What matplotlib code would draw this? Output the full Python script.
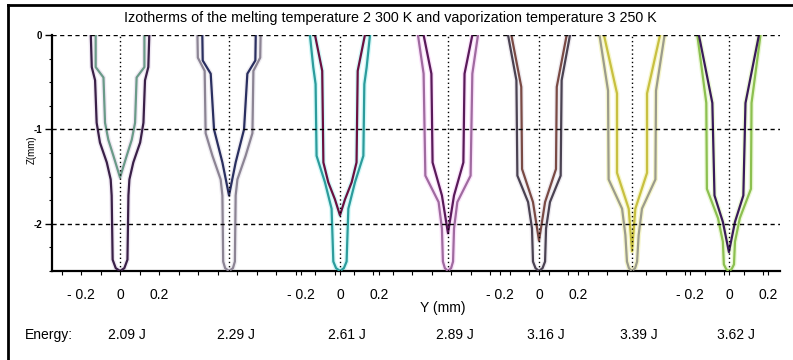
import numpy as np
import matplotlib
matplotlib.use('Agg')
import matplotlib.pyplot as plt
from matplotlib.ticker import MultipleLocator
import matplotlib.transforms as mtransforms

plt.rcParams['font.family'] = ['Liberation Sans', 'DejaVu Sans']

# energies of the seven shots
energies = ['2.09 J', '2.29 J', '2.61 J', '2.89 J', '3.16 J', '3.39 J', '3.62 J']
# position of each profile axis on the common Y axis (mm)
centers = [0.0, 0.559, 1.128, 1.682, 2.149, 2.626, 3.123]

# melting isotherm (2300 K): depth z (mm) and half width (mm)
melt_z = [
    [0, -0.34, -0.48, -0.93, -1.14, -1.35, -1.53, -1.70, -2.38, -2.47, -2.5],
    [0, -0.24, -0.38, -1.04, -1.28, -1.53, -1.70, -2.40, -2.47, -2.5],
    [0, -0.34, -0.52, -1.28, -1.56, -1.84, -2.40, -2.47, -2.5],
    [0, -0.41, -1.49, -1.77, -2.05, -2.40, -2.47, -2.5],
    [0, -0.48, -1.49, -1.77, -2.05, -2.40, -2.47, -2.5],
    [0, -0.59, -1.53, -1.84, -2.12, -2.40, -2.47, -2.5],
    [0, -0.72, -1.63, -1.94, -2.19, -2.43, -2.48, -2.5],
]
melt_w = [
    [0.150, 0.145, 0.128, 0.120, 0.103, 0.068, 0.048, 0.043, 0.038, 0.022, 0],
    [0.162, 0.160, 0.125, 0.120, 0.085, 0.043, 0.034, 0.030, 0.020, 0],
    [0.154, 0.137, 0.125, 0.120, 0.077, 0.043, 0.034, 0.020, 0],
    [0.154, 0.125, 0.116, 0.048, 0.031, 0.026, 0.016, 0],
    [0.159, 0.116, 0.111, 0.056, 0.036, 0.031, 0.018, 0],
    [0.167, 0.123, 0.120, 0.051, 0.034, 0.026, 0.016, 0],
    [0.162, 0.116, 0.113, 0.056, 0.031, 0.026, 0.014, 0],
]

# vaporization isotherm (3250 K)
vap_z = [
    [0, -0.34, -0.45, -0.93, -1.11, -1.28, -1.51],
    [0, -0.27, -0.41, -1.00, -1.35, -1.70],
    [0, -0.38, -1.35, -1.56, -1.74, -1.91],
    [0, -0.41, -1.35, -1.70, -2.10],
    [0, -0.55, -1.42, -1.77, -2.18],
    [0, -0.62, -1.46, -1.84, -2.29],
    [0, -0.72, -1.70, -1.98, -2.30],
]
vap_w = [
    [0.125, 0.125, 0.085, 0.077, 0.060, 0.034, 0],
    [0.137, 0.135, 0.094, 0.077, 0.034, 0],
    [0.128, 0.091, 0.085, 0.060, 0.026, 0],
    [0.125, 0.085, 0.079, 0.031, 0],
    [0.142, 0.091, 0.087, 0.031, 0],
    [0.144, 0.077, 0.077, 0.017, 0],
    [0.154, 0.085, 0.074, 0.031, 0],
]

melt_col = ['#3a2048', '#8c8494', '#2c9c9c', '#a06aa0', '#4a4252', '#9c9c8c', '#8cc050']
melt_glow = ['#eee8f2', '#efedf2', '#d4f8f8', '#fbe4fb', '#eeebf0', '#f6f6cc', '#ecf8d8']
vap_col = ['#6a9a88', '#2a2f60', '#6a1040', '#5a1a5a', '#7a4a44', '#c8c040', '#3a1a5a']

fig = plt.figure(figsize=(7.93, 3.6), dpi=100)
W, H = 793, 360
ax = fig.add_axes([52 / W, 1 - 271 / H, (780 - 52) / W, (271 - 35) / H])

for k in range(len(centers)):
    c = centers[k]
    for zz, ww, col, glow in [(melt_z[k], melt_w[k], melt_col[k], melt_glow[k]),
                              (vap_z[k], vap_w[k], vap_col[k], melt_glow[k])]:
        zz = np.array(zz)
        ww = np.array(ww)
        x = np.concatenate([c - ww, (c + ww)[::-1]])
        z = np.concatenate([zz, zz[::-1]])
        ax.plot(x, z, color=glow, lw=3.5, solid_joinstyle='round', zorder=2)
        ax.plot(x, z, color=col, lw=1.6, solid_joinstyle='round', zorder=3)

for zl in [0, -1, -2]:
    ax.axhline(zl, color='black', lw=1, ls=(0, (3, 2.5)), zorder=4)
ax.vlines(centers, -2.5, 0, colors='black', lw=1, linestyles=(0, (1, 2)), zorder=4)

ax.set_xlim(-0.349, 3.385)
ax.set_ylim(-2.5, 0)
for s in ['top', 'right']:
    ax.spines[s].set_visible(False)
for s in ['left', 'bottom']:
    ax.spines[s].set_linewidth(1.6)
    ax.spines[s].set_color('black')

lab_idx = [0, 2, 4, 6]
xt, xl = [], []
for i in lab_idx:
    xt += [centers[i] - 0.2, centers[i], centers[i] + 0.2]
    xl += ['- 0.2', '0', '0.2']
ax.set_xticks(xt, xl)
ax.xaxis.set_minor_locator(MultipleLocator(0.1))
ax.tick_params(axis='x', which='both', length=3, width=0.8, pad=9, labelsize=10)
ax.set_yticks([0, -1, -2], ['0', '-1', '-2'])
ax.yaxis.set_minor_locator(MultipleLocator(0.25))
ax.tick_params(axis='y', which='major', length=5, width=1, pad=2, labelsize=7)
ax.tick_params(axis='y', which='minor', length=2, width=0.8)
for t in ax.get_yticklabels():
    t.set_fontweight('bold')

fig.text(390 / W, 1 - 18 / H,
         'Izotherms of the melting temperature 2 300 K and vaporization temperature 3 250 K',
         ha='center', va='center', fontsize=10.3)
fig.text(32 / W, 1 - 150 / H, 'Z(mm)', rotation=90, ha='center', va='center', fontsize=7)
fig.text(443 / W, 1 - 308 / H, 'Y (mm)', ha='center', va='center', fontsize=10)
fig.text(25 / W, 1 - 335 / H, 'Energy:', ha='left', va='center', fontsize=10)

trans = mtransforms.blended_transform_factory(ax.transData, fig.transFigure)
for c, e in zip(centers, energies):
    fig.text(c + 0.035, 1 - 335 / H, e, ha='center', va='center', fontsize=10, transform=trans)

# outer frame
fig.add_artist(plt.Line2D([8 / W, 8 / W], [0, 1 - 5 / H], transform=fig.transFigure,
                          color='black', lw=2))
fig.add_artist(plt.Line2D([8 / W, 1], [1 - 5 / H, 1 - 5 / H], transform=fig.transFigure,
                          color='black', lw=2))

fig.savefig('out.png', dpi=100)
